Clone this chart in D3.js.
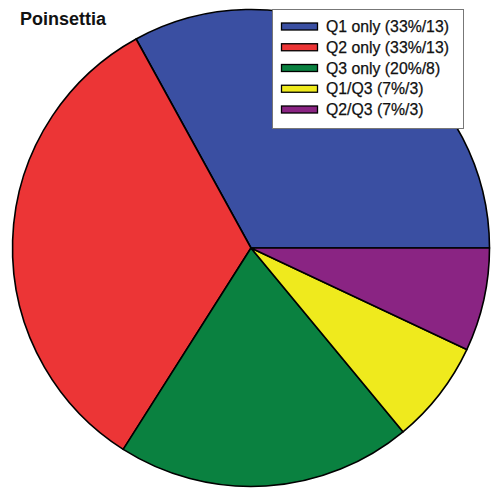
<!DOCTYPE html>
<html><head><meta charset="utf-8">
<script src="https://cdn.jsdelivr.net/npm/d3@7"></script>
<style>body{margin:0;background:#fff}svg{display:block}</style>
</head><body>
<svg id="c" width="491" height="489"></svg>
<script>
const categories = ["Q1 only", "Q2 only", "Q3 only", "Q1/Q3", "Q2/Q3"];
const percents = [33, 33, 20, 7, 7];
const counts = [13, 13, 8, 3, 3];
const legendLabels = ["Q1 only (33%/13)", "Q2 only (33%/13)", "Q3 only (20%/8)", "Q1/Q3 (7%/3)", "Q2/Q3 (7%/3)"];
const colors = ["#3a4fa2", "#ec3536", "#0a8140", "#efea1d", "#8a2483"];
const title = "Poinsettia";

const svg = d3.select("#c");
const cx = 251, cy = 248, r = 238.5;
const color = d3.scaleOrdinal().domain(categories).range(colors);
const pie = d3.pie().sort(null).value(d => d.v)
  .startAngle(Math.PI/2).endAngle(Math.PI/2 - 2*Math.PI);
const data = categories.map((c,i)=>({c, v: percents[i], n: counts[i]}));
const arc = d3.arc().innerRadius(0).outerRadius(r);
svg.append("g").attr("transform",`translate(${cx},${cy})`)
  .selectAll("path").data(pie(data)).join("path")
  .attr("d", arc).attr("fill", d=>color(d.data.c))
  .attr("stroke","#000").attr("stroke-width",1.6).attr("stroke-linejoin","round");

svg.append("text").attr("x",20).attr("y",25).text(title)
  .attr("font-family","Liberation Sans, Arial, sans-serif").attr("font-weight","bold")
  .attr("font-size",18).attr("fill","#111");

const lg = svg.append("g");
lg.append("rect").attr("x",272.5).attr("y",9.5).attr("width",191).attr("height",119)
  .attr("fill","#fff").attr("stroke","#777").attr("stroke-width",1);
const row = d3.scalePoint().domain(categories).range([26.5,109.5]);
const items = lg.selectAll("g.it").data(categories).join("g").attr("class","it")
  .attr("transform", d=>`translate(0,${row(d)})`);
items.append("rect").attr("x",281.5).attr("y",-3.5).attr("width",36).attr("height",7)
  .attr("fill", d=>color(d)).attr("stroke","#000").attr("stroke-width",1.3);
items.append("text").attr("x",326).attr("y",5.5)
  .text((d,i)=>legendLabels[i])
  .attr("font-family","Liberation Sans, Arial, sans-serif").attr("font-size",15.8).attr("fill","#111")
  .attr("stroke","#111").attr("stroke-width",0.25);
</script>
</body></html>
